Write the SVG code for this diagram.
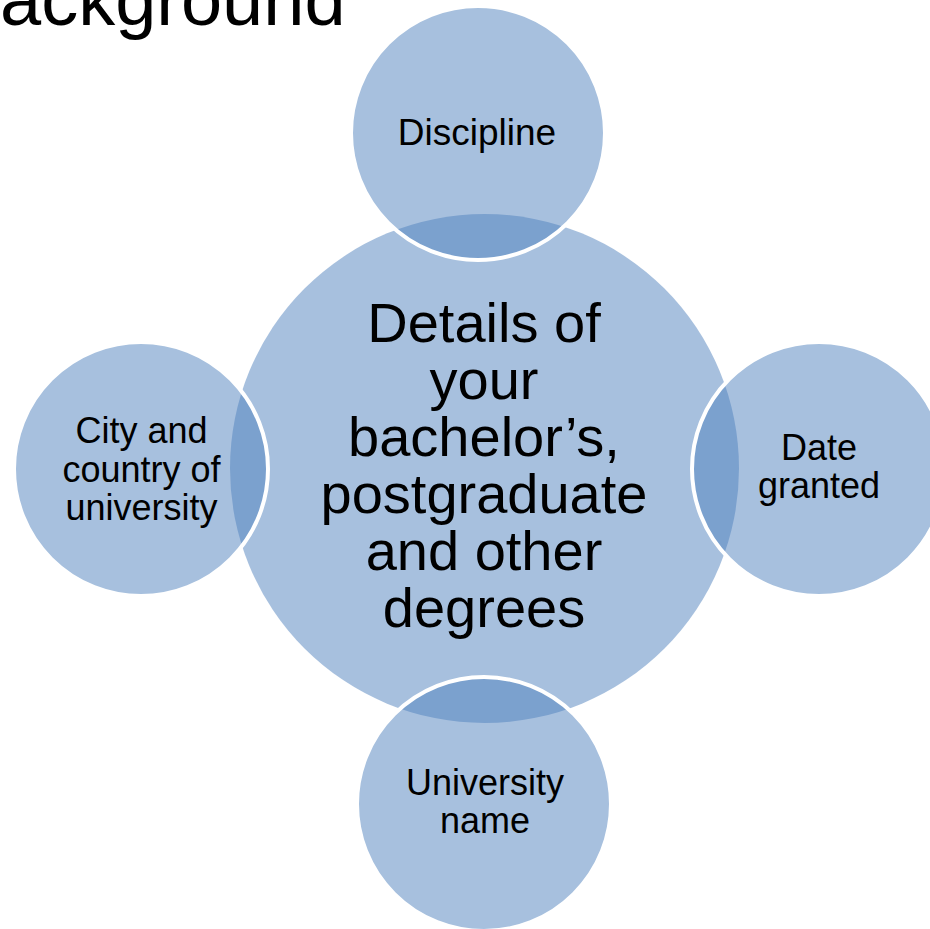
<svg xmlns="http://www.w3.org/2000/svg" width="930" height="929" viewBox="0 0 930 929">
  <style>
    .bubble { fill: #4F81BD; fill-opacity: 0.5; }
    .sat { stroke: #FFFFFF; stroke-width: 4; }
    .t { font-family: "Liberation Sans", Arial, sans-serif; fill: #000000; text-anchor: middle; }
    .big { font-size: 56px; }
    .small { font-size: 36px; }
  </style>
  <rect x="0" y="0" width="930" height="929" fill="#FFFFFF"/>
  <text x="0" y="25" font-family="Liberation Sans, Arial, sans-serif" font-size="74" fill="#000000">ackground</text>

  <g id="center">
    <circle class="bubble" cx="484.5" cy="468.5" r="254.5"/>
    <text class="t big" x="484" y="342">Details of</text>
    <text class="t big" x="484" y="399">your</text>
    <text class="t big" x="484" y="456">bachelor’s,</text>
    <text class="t big" x="484" y="513">postgraduate</text>
    <text class="t big" x="484" y="570">and other</text>
    <text class="t big" x="484" y="627">degrees</text>
  </g>

  <g id="discipline">
    <circle class="bubble sat" cx="478" cy="133" r="127"/>
    <text class="t" font-size="37" x="477" y="145">Discipline</text>
  </g>

  <g id="date-granted">
    <circle class="bubble sat" cx="819" cy="469" r="127"/>
    <text class="t small" x="819" y="460">Date</text>
    <text class="t small" x="819" y="497.5">granted</text>
  </g>

  <g id="university-name">
    <circle class="bubble sat" cx="484" cy="804" r="127"/>
    <text class="t small" x="485" y="795">University</text>
    <text class="t small" x="485" y="833">name</text>
  </g>

  <g id="city-country">
    <circle class="bubble sat" cx="141" cy="469" r="127"/>
    <text class="t small" x="141.5" y="443">City and</text>
    <text class="t small" x="141.5" y="481.5">country of</text>
    <text class="t small" x="141.5" y="520">university</text>
  </g>
</svg>
